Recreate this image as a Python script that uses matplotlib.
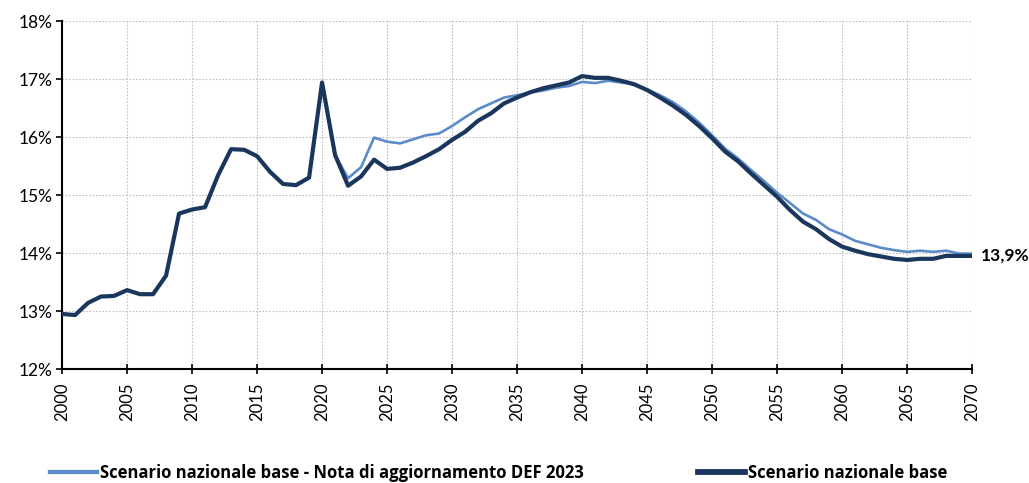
import numpy as np
import matplotlib
matplotlib.use("Agg")
import matplotlib.pyplot as plt
from matplotlib.ticker import FuncFormatter, MultipleLocator

# Data (share of GDP, %)
years = np.arange(2000, 2071)

hist = [12.95, 12.93, 13.14, 13.25, 13.26, 13.36, 13.29, 13.29, 13.61, 14.68,
        14.75, 14.79, 15.34, 15.79, 15.78, 15.67, 15.40, 15.19, 15.17, 15.30,
        16.94, 15.69]

base_nadef = hist + [
    15.29, 15.48, 15.99, 15.92, 15.89, 15.96, 16.03, 16.06, 16.19,
    16.34, 16.48, 16.58, 16.68, 16.72, 16.77, 16.80, 16.85, 16.88, 16.95,
    16.93, 16.97, 16.94, 16.91, 16.82, 16.72, 16.60, 16.44, 16.25, 16.03,
    15.80, 15.63, 15.43, 15.24, 15.04, 14.86, 14.68, 14.57, 14.41, 14.32,
    14.21, 14.15, 14.09, 14.05, 14.02, 14.04, 14.02, 14.04, 13.99, 13.99]

base = hist + [
    15.16, 15.32, 15.61, 15.45, 15.47, 15.56, 15.67, 15.79, 15.95,
    16.09, 16.28, 16.41, 16.58, 16.68, 16.77, 16.84, 16.89, 16.94, 17.05,
    17.02, 17.02, 16.97, 16.91, 16.81, 16.68, 16.54, 16.38, 16.19, 15.98,
    15.75, 15.58, 15.37, 15.17, 14.97, 14.74, 14.54, 14.41, 14.24, 14.11,
    14.04, 13.98, 13.94, 13.90, 13.88, 13.90, 13.90, 13.95, 13.95, 13.95]

labels = ["Scenario nazionale base - Nota di aggiornamento DEF 2023",
          "Scenario nazionale base"]
end_label = "13,9%"

LIGHT = "#5B8BC9"
DARK = "#1B365D"

plt.rcParams["font.family"] = ["Lato", "DejaVu Sans"]

fig = plt.figure(figsize=(10.29, 4.83), dpi=100)
ax = fig.add_axes([0.0603, 0.236, 0.8844, 0.7205])

ax.plot(years, base_nadef, color=LIGHT, lw=1.9, label=labels[0], zorder=3)
ax.plot(years, base, color=DARK, lw=3.0, label=labels[1], zorder=4)

ax.set_xlim(2000, 2070)
ax.set_ylim(12, 18)
ax.xaxis.set_major_locator(MultipleLocator(5))
ax.yaxis.set_major_locator(MultipleLocator(1))
ax.yaxis.set_major_formatter(FuncFormatter(lambda v, p: f"{v:.0f}%"))
ax.grid(True, color="#BFBFBF", linestyle=(0, (1.5, 1.5)), linewidth=0.8)
ax.set_axisbelow(True)

for s in ["top", "right"]:
    ax.spines[s].set_visible(False)
for s in ["left", "bottom"]:
    ax.spines[s].set_linewidth(1.5)
    ax.spines[s].set_color("black")

ax.tick_params(axis="y", direction="out", length=4, width=1.2, labelsize=12.5, pad=3)
ax.tick_params(axis="x", direction="inout", length=7, width=1.2, labelsize=12,
               rotation=90, pad=6)

ax.annotate(end_label, xy=(years[-1], base[-1]), xytext=(6, 0),
            textcoords="offset points", va="center", ha="left",
            fontsize=12.5, fontweight="bold", annotation_clip=False)

leg = fig.legend(loc="center left", bbox_to_anchor=(50 / 1029, 10 / 483), ncol=2,
                 frameon=False, handlelength=2.8, handletextpad=0.18,
                 columnspacing=6.9, borderpad=0, borderaxespad=0,
                 prop={"family": ["Open Sans", "DejaVu Sans"],
                       "weight": "bold", "size": 12})
for line in leg.get_lines():
    line.set_linewidth(line.get_linewidth() + 1.2)

fig.savefig("out.png", dpi=100)
